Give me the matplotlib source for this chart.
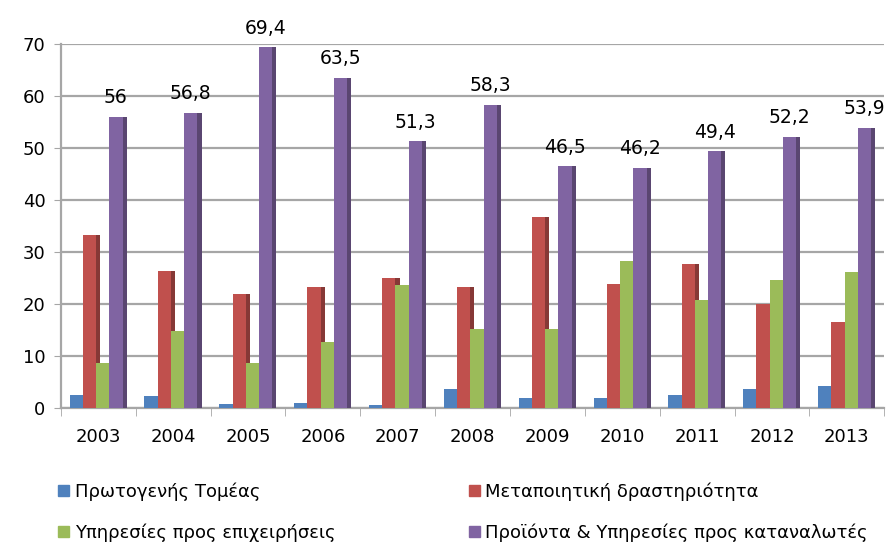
import numpy as np
import matplotlib
matplotlib.use("Agg")
import matplotlib.pyplot as plt
from matplotlib.patches import Patch
from matplotlib.colors import to_rgb

years = ["2003", "2004", "2005", "2006", "2007", "2008", "2009", "2010", "2011", "2012", "2013"]
primary = [2.5, 2.4, 0.8, 0.9, 0.6, 3.6, 2.0, 2.0, 2.5, 3.7, 4.3]
manufacturing = [33.2, 26.4, 21.9, 23.3, 25.0, 23.3, 36.7, 23.9, 27.7, 20.0, 16.5]
business_services = [8.7, 14.8, 8.6, 12.8, 23.7, 15.3, 15.3, 28.3, 20.8, 24.6, 26.2]
consumer = [56, 56.8, 69.4, 63.5, 51.3, 58.3, 46.5, 46.2, 49.4, 52.2, 53.9]

names = ["Πρωτογενής Τομέας", "Μεταποιητική δραστηριότητα",
         "Υπηρεσίες προς επιχειρήσεις", "Προϊόντα & Υπηρεσίες προς καταναλωτές"]
colors = ["#4F81BD", "#C0504D", "#9BBB59", "#8064A2"]
series = [primary, manufacturing, business_services, consumer]

def darker(c, f=0.7):
    return tuple(v * f for v in to_rgb(c))

plt.rcParams['font.family'] = ['DejaVu Sans']

fig = plt.figure(figsize=(8.95, 5.5), dpi=100)
ax = fig.add_axes([0.068, 0.258, 0.92, 0.662])

x = np.arange(len(years))
w = 0.177
side = 0.055
shift = -0.03
for i, (vals, c) in enumerate(zip(series, colors)):
    pos = x + (i - 1.5) * w + shift
    # side face first so the front of the next bar covers it
    ax.bar(pos + w / 2 + side / 2, vals, width=side, color=darker(c), zorder=3)
    ax.bar(pos, vals, width=w, color=c, zorder=4)

pos = x + 1.5 * w + shift
for p, v in zip(pos, consumer):
    ax.text(p, v + 1.8, f"{v:g}".replace(".", ","), ha="center", va="bottom",
            fontsize=13.5, zorder=5)

ax.set_ylim(0, 70)
ax.set_xlim(-0.5, len(years) - 0.5)
ax.set_yticks(range(0, 71, 10))
ax.yaxis.grid(True, color="#A6A6A6", linewidth=1.6, zorder=0)
ax.set_xticks(x)
ax.set_xticklabels(years)
ax.set_xticks(np.arange(-0.5, len(years)), minor=True)
ax.tick_params(axis="x", which="major", length=0, pad=14, labelsize=13)
ax.tick_params(axis="x", which="minor", length=6, color="#A6A6A6")
ax.tick_params(axis="y", length=5, color="#A6A6A6", labelsize=13, pad=6)
for s in ["top", "right"]:
    ax.spines[s].set_visible(False)
for s in ["left", "bottom"]:
    ax.spines[s].set_color("#A6A6A6")
    ax.spines[s].set_linewidth(1.6)

handles = [Patch(color=c) for c in colors]
order = [0, 2, 1, 3]
fig.legend([handles[k] for k in order], [names[k] for k in order],
           ncol=2, loc="lower left", bbox_to_anchor=(0.047, -0.015),
           frameon=False, handlelength=0.6, handleheight=0.6,
           handletextpad=0.3, columnspacing=7.4, labelspacing=1.25,
           prop={"family": "DejaVu Sans", "size": 13})

fig.savefig("out.png", dpi=100)
